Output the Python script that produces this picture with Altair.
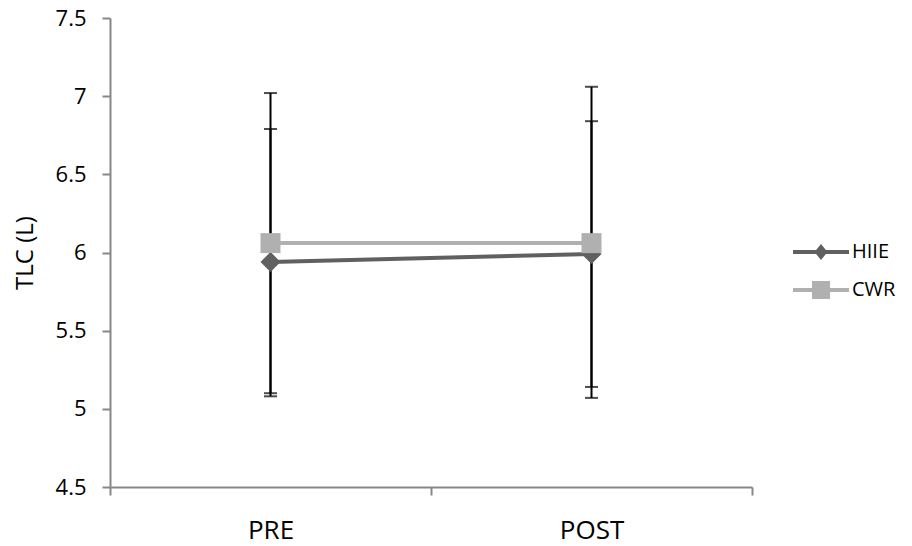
import altair as alt
import pandas as pd

times = ["PRE", "POST"]
series_names = ["HIIE", "CWR"]
series_colors = ["#606060", "#b0b0b0"]
series_shapes = ["diamond", "square"]

hiie_mean = [5.94, 5.99]
hiie_low = [5.08, 5.14]
hiie_high = [6.79, 6.84]
cwr_mean = [6.06, 6.06]
cwr_low = [5.10, 5.07]
cwr_high = [7.02, 7.06]

y_ticks = [4.5, 5, 5.5, 6, 6.5, 7, 7.5]

rows = []
for name, m, lo, hi in [("HIIE", hiie_mean, hiie_low, hiie_high),
                        ("CWR", cwr_mean, cwr_low, cwr_high)]:
    for t, a, b, c in zip(times, m, lo, hi):
        rows.append({"time": t, "series": name, "mean": a, "low": b, "high": c})
df = pd.DataFrame(rows)

FONT = "Open Sans"
AX = "#878787"

x = alt.X("time:N", sort=times,
          scale=alt.Scale(domain=times, paddingInner=0, paddingOuter=0),
          axis=alt.Axis(title=None, tickBand="extent", labelAngle=0,
                        labelFontSize=26, labelPadding=22, labelFont=FONT,
                        labelColor="black", domainColor=AX, tickColor=AX,
                        domainWidth=2, tickWidth=2, tickSize=8, grid=False))
yscale = alt.Scale(domain=[4.5, 7.5], zero=False, nice=False)
yaxis = alt.Axis(title="TLC (L)", values=y_ticks, format="~g",
                 labelFontSize=22, labelFont=FONT, labelColor="black",
                 labelPadding=16, titleFontSize=24, titleFont=FONT,
                 titleFontWeight="normal", titleColor="black", titlePadding=18,
                 domainColor=AX, tickColor=AX, domainWidth=2, tickWidth=2,
                 tickSize=8, grid=False)

base = alt.Chart(df)

rules = base.mark_rule(color="black", strokeWidth=2).encode(
    x=x, y=alt.Y("low:Q", scale=yscale, axis=yaxis), y2="high:Q")
cap_low = base.mark_tick(color="black", size=13, thickness=2).encode(
    x=x, y=alt.Y("low:Q", scale=yscale))
cap_high = base.mark_tick(color="black", size=13, thickness=2).encode(
    x=x, y=alt.Y("high:Q", scale=yscale))

line_layers = []
point_layers = []
for name, col, shp in zip(series_names, series_colors, series_shapes):
    sub = base.transform_filter(alt.datum.series == name)
    line_layers.append(sub.mark_line(strokeWidth=4, color=col).encode(
        x=x, y=alt.Y("mean:Q", scale=yscale)))
    point_layers.append(sub.mark_point(shape=shp, filled=True, size=400, opacity=1,
                                       strokeWidth=0, color=col).encode(
        x=x, y=alt.Y("mean:Q", scale=yscale)))

# legend symbols: line + marker
path_diamond = "M-2.8,-0.2L2.8,-0.2L2.8,0.2L-2.8,0.2Z M0,-0.8L0.65,0L0,0.8L-0.65,0Z"
path_square = "M-2.8,-0.2L2.8,-0.2L2.8,0.2L-2.8,0.2Z M-0.9,-0.9L0.9,-0.9L0.9,0.9L-0.9,0.9Z"

leg = alt.Legend(title=None, orient="none", legendX=701, legendY=224,
                 symbolSize=400, symbolStrokeWidth=0, labelFontSize=20,
                 labelFont=FONT, labelColor="black", labelOffset=21,
                 rowPadding=18, padding=0)
legend_layer = base.mark_point(filled=True, opacity=1, size=400).encode(
    x=alt.value(-3000), y=alt.value(-3000),
    color=alt.Color("series:N", scale=alt.Scale(domain=series_names, range=series_colors), legend=leg),
    shape=alt.Shape("series:N", scale=alt.Scale(domain=series_names, range=[path_diamond, path_square]), legend=leg),
)

chart = alt.layer(rules, cap_low, cap_high, *line_layers, *point_layers, legend_layer).properties(
    width=642, height=469,
    padding={"left": 102, "top": 10, "right": 150, "bottom": 62},
    autosize=alt.AutoSizeParams(type="none"),
).configure_view(stroke=None)

chart.save("out.html", embed_options={"renderer": "svg", "actions": False})
